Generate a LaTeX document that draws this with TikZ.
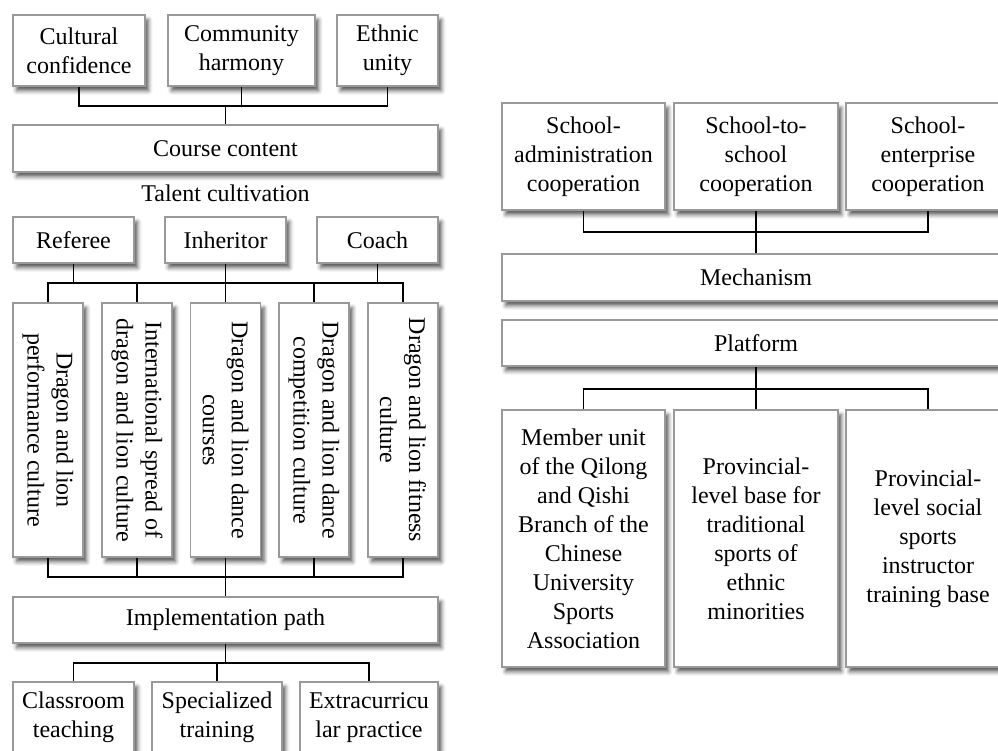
\documentclass[tikz,border=0pt]{standalone}
\usepackage{fontspec}
\setmainfont{Liberation Serif}
\usetikzlibrary{shadows.blur}

\tikzset{
  box/.style={draw=black!40, line width=0.7pt, fill=white, align=center, inner sep=1pt,
    blur shadow={shadow xshift=1.8pt, shadow yshift=-2.4pt, shadow blur radius=2pt, shadow opacity=65}},
  link/.style={line width=0.8pt},
}

\begin{document}
\begin{tikzpicture}[x=0.5pt,y=-0.5pt,font=\fontsize{12}{14.5}\selectfont]
            \useasboundingbox (0,0) rectangle (998,751);
            \clip (0,0) rectangle (998,751);

            % left: goals
            \node[box, minimum width=66pt, minimum height=35.5pt] (cult) at (79,50.5) {Cultural\\confidence};
            \node[box, minimum width=73.5pt, minimum height=35.5pt] (comm) at (241.5,50.5) {Community\\harmony};
            \node[box, minimum width=50.5pt, minimum height=35.5pt] (ethn) at (387.5,50.5) {Ethnic\\unity};
            \node[box, minimum width=212.5pt, minimum height=23.5pt] (course) at (225.5,148.5) {Course content};
            \node (talent) at (225.5,193) {Talent cultivation};

            % left: roles
            \node[box, minimum width=60.5pt, minimum height=23pt] (ref) at (73.5,240) {Referee};
            \node[box, minimum width=60.5pt, minimum height=23pt] (inh) at (225.5,240) {Inheritor};
            \node[box, minimum width=60.5pt, minimum height=23pt] (coach) at (377.5,240) {Coach};

            % left: vertical boxes, text turned separately
            \foreach \n/\x in {v1/48,v2/137,v3/225.5,v4/314,v5/403}
              \node[box, minimum width=35pt, minimum height=127pt] (\n) at (\x,430) {};
            \node[rotate=-90, align=center] at (v1) {Dragon and lion\\performance culture};
            \node[rotate=-90, align=center] at (v2) {International spread of\\dragon and lion culture};
            \node[rotate=-90, align=center] at (v3) {Dragon and lion dance\\courses};
            \node[rotate=-90, align=center] at (v4) {Dragon and lion dance\\competition culture};
            \node[rotate=-90, align=center] at (v5) {Dragon and lion fitness\\culture};

            % left: path
            \node[box, minimum width=212.5pt, minimum height=23pt] (impl) at (225.5,620) {Implementation path};
            \node[box, minimum width=60.5pt, minimum height=35.5pt] (class) at (73.5,717.5) {Classroom\\teaching};
            \node[box, minimum width=65pt, minimum height=35.5pt] (spec) at (217,717.5) {Specialized\\training};
            \node[box, minimum width=69pt, minimum height=35.5pt] (extra) at (369,717.5) {Extracurricu\\lar practice};

            % right
            \node[box, minimum width=81.5pt, minimum height=53.5pt] (sadm) at (583.5,156.5) {School-\\administration\\cooperation};
            \node[box, minimum width=82pt, minimum height=53.5pt] (ssch) at (756,156.5) {School-to-\\school\\cooperation};
            \node[box, minimum width=82pt, minimum height=53.5pt] (sent) at (928,156.5) {School-\\enterprise\\cooperation};
            \node[box, minimum width=254pt, minimum height=23.5pt] (mech) at (756,277.5) {Mechanism};
            \node[box, minimum width=254pt, minimum height=23pt] (plat) at (756,343) {Platform};
            \node[box, minimum width=81.5pt, minimum height=128.5pt] (memb) at (583.5,538.5)
              {Member unit\\of the Qilong\\and Qishi\\Branch of the\\Chinese\\University\\Sports\\Association};
            \node[box, minimum width=82pt, minimum height=128.5pt] (pbase) at (756,538.5)
              {Provincial-\\level base for\\traditional\\sports of\\ethnic\\minorities};
            \node[box, minimum width=82pt, minimum height=128.5pt] (psoc) at (928,538.5)
              {Provincial-\\level social\\sports\\instructor\\training base};

            % connectors
            \coordinate (b1) at (225.5,106);
            \coordinate (b2) at (225.5,283);
            \coordinate (b3) at (225.5,577);
            \coordinate (b4) at (225.5,663);
            \coordinate (b5) at (756,232);
            \coordinate (b6) at (756,389);

            \draw[link] (cult.south) |- (b1) -| (ethn.south);
            \draw[link] (comm.south) -- (comm.south |- b1);
            \draw[link] (b1) -- (course.north);

            \draw[link] (v1.north) |- (b2) -| (v5.north);
            \foreach \n in {ref,inh,coach}
              \draw[link] (\n.south) -- (\n.south |- b2);
            \foreach \n in {v2,v3,v4}
              \draw[link] (\n.north) -- (\n.north |- b2);

            \draw[link] (v1.south) |- (b3) -| (v5.south);
            \foreach \n in {v2,v3,v4}
              \draw[link] (\n.south) -- (\n.south |- b3);
            \draw[link] (b3) -- (impl.north);

            \draw[link] (impl.south) -- (b4);
            \draw[link] (class.north) |- (b4) -| (extra.north);
            \draw[link] (spec.north) -- (spec.north |- b4);

            \draw[link] (sadm.south) |- (b5) -| (sent.south);
            \draw[link] (ssch.south) -- (b5);
            \draw[link] (b5) -- (mech.north);

            \draw[link] (plat.south) -- (b6);
            \draw[link] (memb.north) |- (b6) -| (psoc.north);
            \draw[link] (pbase.north) -- (b6);
        \end{tikzpicture}
\end{document}
